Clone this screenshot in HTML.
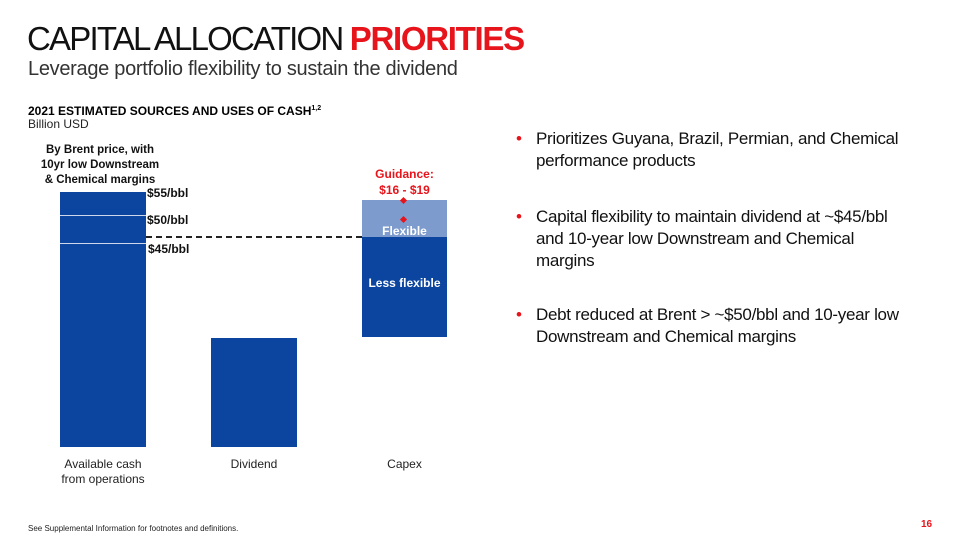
<!DOCTYPE html>
<html><head><meta charset="utf-8"><style>
body{margin:0;width:960px;height:540px;background:#fff;font-family:"Liberation Sans",sans-serif;position:relative;overflow:hidden;color:#000}
div{position:absolute;white-space:nowrap}
.b{background:#0c45a0}
.lbl{font-size:12px;font-weight:bold;color:#111}
.bul{font-size:17px;letter-spacing:-0.3px;color:#111;line-height:22px;left:516px;padding-left:20px}
.bul::before{content:"•";color:#e8141b;position:absolute;left:0;top:0}
</style></head><body>
<div style="left:27px;top:20px;font-size:33px;letter-spacing:-1.8px;color:#111">CAPITAL ALLOCATION <b style="color:#e8141b;letter-spacing:-1.3px">PRIORITIES</b></div>
<div style="left:28px;top:58px;font-size:20px;letter-spacing:-0.3px;color:#333">Leverage portfolio flexibility to sustain the dividend</div>
<div style="left:28px;top:104px;font-size:12px;font-weight:bold">2021 ESTIMATED SOURCES AND USES OF CASH<sup style="font-size:7px">1,2</sup></div>
<div style="left:28px;top:117px;font-size:12px;color:#222">Billion USD</div>
<div class="lbl" style="left:30px;top:143px;width:140px;text-align:center;line-height:15px;font-size:11.5px">By Brent price, with<br>10yr low Downstream<br>&amp; Chemical margins</div>
<div class="b" style="left:60px;top:192px;width:86px;height:255px"></div>
<div style="left:60px;top:215px;width:86px;height:1px;background:#cfd8ea"></div>
<div style="left:60px;top:243px;width:86px;height:1px;background:#cfd8ea"></div>
<div class="lbl" style="left:147px;top:186px">$55/bbl</div>
<div class="lbl" style="left:147px;top:213px">$50/bbl</div>
<div class="lbl" style="left:148px;top:242px">$45/bbl</div>
<div style="left:146px;top:236px;width:216px;border-top:2px dashed #222"></div>
<div class="b" style="left:211px;top:338px;width:86px;height:109px"></div>
<div style="left:362px;top:200px;width:85px;height:37px;background:#7d9bcc"></div>
<div class="b" style="left:362px;top:237px;width:85px;height:100px"></div>
<div style="left:362px;top:166px;width:85px;text-align:center;color:#e8141b;font-size:12px;font-weight:bold;line-height:16px">Guidance:<br>$16 - $19</div>
<div style="left:401px;top:198px;width:5px;height:5px;background:#e8141b;transform:rotate(45deg)"></div>
<div style="left:401px;top:217px;width:5px;height:5px;background:#e8141b;transform:rotate(45deg)"></div>
<div style="left:362px;top:224px;width:85px;text-align:center;color:#fff;font-size:12px;font-weight:bold">Flexible</div>
<div style="left:362px;top:276px;width:85px;text-align:center;color:#fff;font-size:12px;font-weight:bold">Less flexible</div>
<div style="left:50px;top:457px;width:106px;text-align:center;font-size:12px;color:#222;line-height:15px">Available cash<br>from operations</div>
<div style="left:211px;top:457px;width:86px;text-align:center;font-size:12px;color:#222">Dividend</div>
<div style="left:362px;top:457px;width:85px;text-align:center;font-size:12px;color:#222">Capex</div>
<div class="bul" style="top:128px">Prioritizes Guyana, Brazil, Permian, and Chemical<br>performance products</div>
<div class="bul" style="top:206px">Capital flexibility to maintain dividend at ~$45/bbl<br>and 10-year low Downstream and Chemical<br>margins</div>
<div class="bul" style="top:304px">Debt reduced at Brent &gt; ~$50/bbl and 10-year low<br>Downstream and Chemical margins</div>
<div style="left:28px;top:524px;font-size:8px;color:#222">See Supplemental Information for footnotes and definitions.</div>
<div style="left:921px;top:519px;font-size:10px;font-weight:bold;color:#e8141b">16</div>
</body></html>
